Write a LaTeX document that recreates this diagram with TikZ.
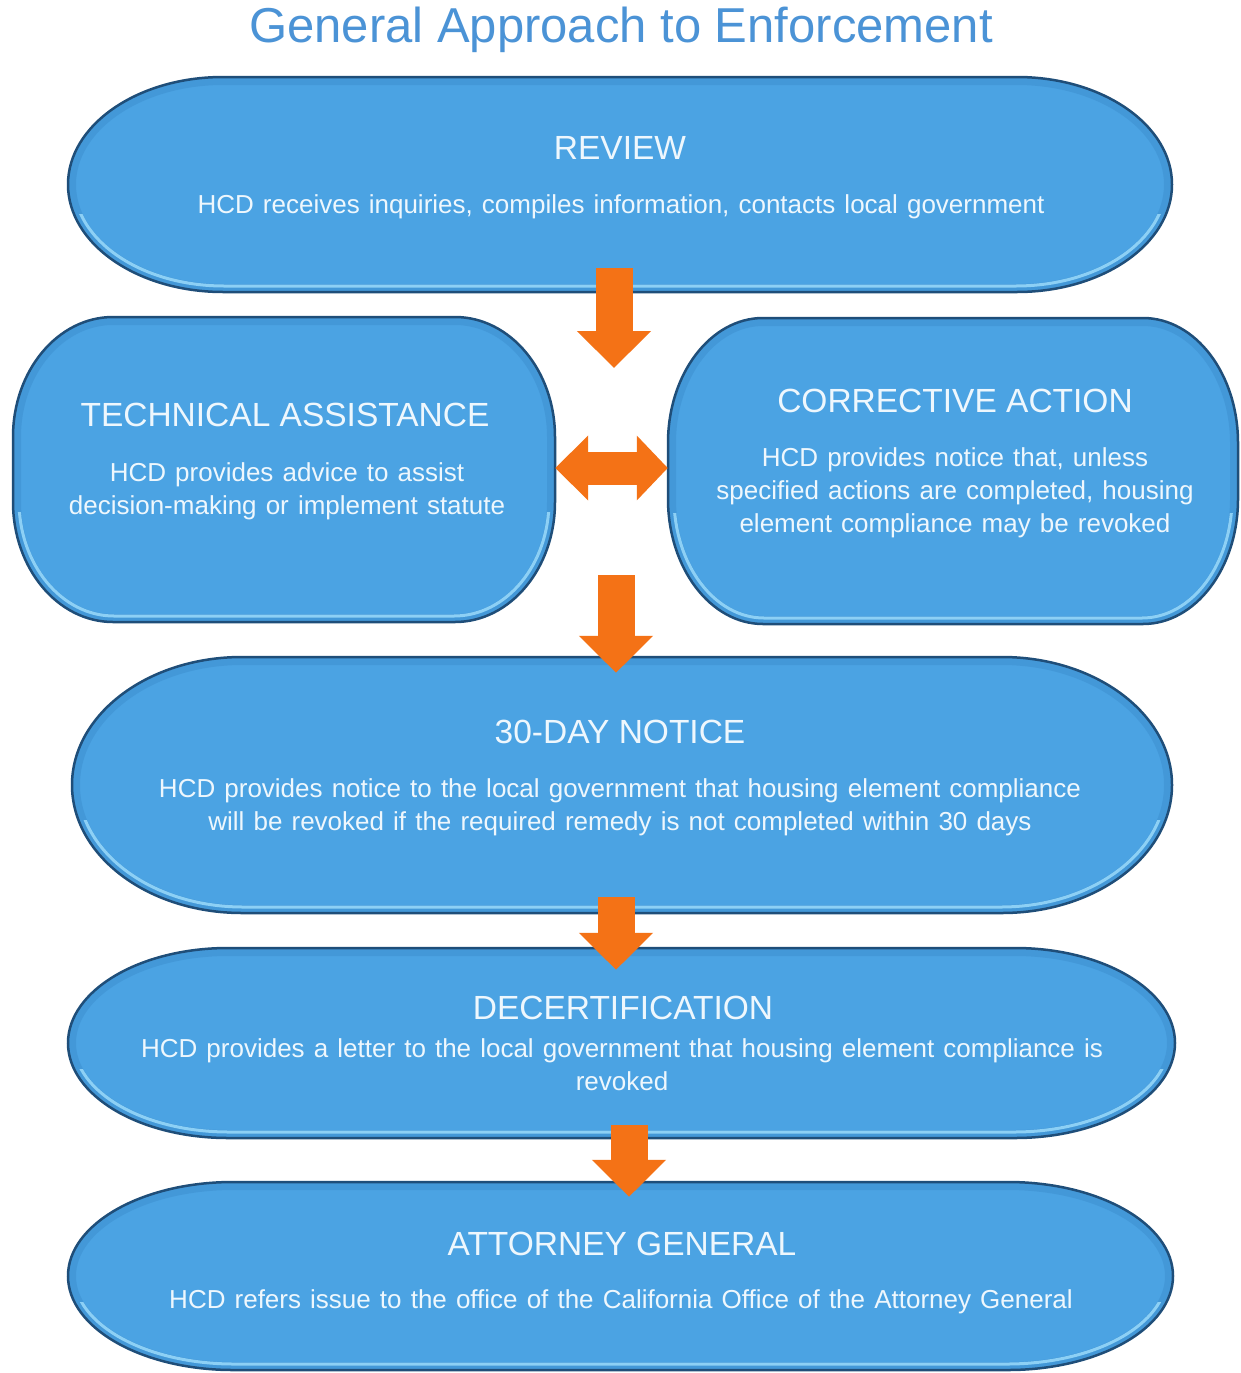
\documentclass[tikz,border=0pt]{standalone}
\usepackage{fontspec}
\setmainfont{Liberation Sans}
\usetikzlibrary{arrows.meta,calc}

\definecolor{pillfill}{HTML}{4BA3E3}
\definecolor{pilledge}{HTML}{1F4E79}
\definecolor{pilllight}{HTML}{A6E4FF}
\definecolor{pilldark}{HTML}{3A8BCB}
\definecolor{pilltext}{HTML}{EEF7FD}
\definecolor{headblue}{HTML}{4B93D6}
\definecolor{arroworange}{HTML}{F47216}

% 1 - 0.5523: Bezier approximation of a quarter ellipse
\def\kk{0.4477}
% rectangle x1 y1 x2 y2 with elliptical corners rx, ry
\newcommand\pillpath[6]{%
  ({#1+#5},#2) -- ({#3-#5},#2)
  .. controls ({#3-\kk*#5},#2) and (#3,{#2+\kk*#6}) .. (#3,{#2+#6})
  -- (#3,{#4-#6})
  .. controls (#3,{#4-\kk*#6}) and ({#3-\kk*#5},#4) .. ({#3-#5},#4)
  -- ({#1+#5},#4)
  .. controls ({#1+\kk*#5},#4) and (#1,{#4-\kk*#6}) .. (#1,{#4-#6})
  -- (#1,{#2+#6})
  .. controls (#1,{#2+\kk*#6}) and ({#1+\kk*#5},#2) .. ({#1+#5},#2) -- cycle}

% a bevelled blue pill
\newcommand\bluepill[6]{%
  \pgfmathsetmacro\ixa{#1+6}\pgfmathsetmacro\iya{#2+6}%
  \pgfmathsetmacro\ixb{#3-6}\pgfmathsetmacro\iyb{#4-6}%
  \pgfmathsetmacro\irx{#5-5}\pgfmathsetmacro\iry{#6-5}%
  \pgfmathsetmacro\ymid{#2+0.64*(#4-#2)}\pgfmathsetmacro\ylow{#4+5}%
  \fill[pillfill] \pillpath{#1}{#2}{#3}{#4}{#5}{#6};
  \begin{scope}
    \clip \pillpath{#1}{#2}{#3}{#4}{#5}{#6};
    \draw[pilldark, line width=16pt, opacity=0.45] \pillpath{#1}{#2}{#3}{#4}{#5}{#6};
  \end{scope}
  \begin{scope}
    \clip (0,\ymid) rectangle (1241,\ylow);
    \draw[pilllight, line width=3pt, opacity=0.75]
      \pillpath{\ixa}{\iya}{\ixb}{\iyb}{\irx}{\iry};
  \end{scope}
  \draw[pilledge, line width=2.5pt] \pillpath{#1}{#2}{#3}{#4}{#5}{#6};
}

% body text with slightly wider word gaps
\newcommand\bodyfont{\fontsize{26}{33}\selectfont\spaceskip=0.35em plus 0.1em\relax}

\tikzset{
  boxnode/.style={draw=none, inner sep=0pt, rectangle},
  stagetitle/.style={text=pilltext, font=\fontsize{33.5}{38}\selectfont, inner sep=0pt},
  stagebody/.style={text=pilltext, font=\bodyfont, align=center, inner sep=0pt},
  blockarrow/.style={arroworange, line width=37pt,
    -{Triangle[length=37pt,width=72pt]}},
  twowayarrow/.style={arroworange, line width=33pt,
    {Triangle[length=33pt,width=63pt]}-{Triangle[length=31pt,width=63pt]}},
}

\begin{document}
\begin{tikzpicture}[x=1pt, y=-1pt]
\useasboundingbox (0,0) rectangle (1241,1373);
\fill[white] (0,0) rectangle (1241,1373);

% heading
\node[text=headblue, font=\fontsize{49}{55}\selectfont, inner sep=0pt] (heading) at (621,30) {General Approach to Enforcement};

% stage shapes
\bluepill{68}{77}{1172}{292}{155}{107.5}
\bluepill{13}{317}{555}{622}{100}{120}
\bluepill{668}{318}{1238}{624}{95}{125}
\bluepill{72}{657}{1172}{913}{170}{128}
\bluepill{68}{948}{1175}{1138}{160}{95}
\bluepill{68}{1182}{1173}{1370}{165}{94}

% stage nodes
\node[boxnode, minimum width=1104pt, minimum height=215pt] (review) at (620,184.5) {};
\node[boxnode, minimum width=542pt, minimum height=305pt] (tech) at (284,469.5) {};
\node[boxnode, minimum width=570pt, minimum height=306pt] (corrective) at (953,471) {};
\node[boxnode, minimum width=1100pt, minimum height=256pt] (notice) at (622,785) {};
\node[boxnode, minimum width=1107pt, minimum height=190pt] (decert) at (621.5,1043) {};
\node[boxnode, minimum width=1105pt, minimum height=188pt] (attorney) at (620.5,1276) {};

% stage texts
\node[stagetitle] (review-t) at (620,148) {REVIEW};
\node[stagebody] (review-b) at (621,207) {HCD receives inquiries, compiles information, contacts local government};

\node[stagetitle] (tech-t) at (285,415) {TECHNICAL ASSISTANCE};
\node[stagebody] (tech-b) at (287,491) {HCD provides advice to assist\\decision-making or implement statute};

\node[stagetitle] (corrective-t) at (955,401) {CORRECTIVE ACTION};
\node[stagebody] (corrective-b) at (955,493) {HCD provides notice that, unless\\specified actions are completed, housing\\element compliance may be revoked};

\node[stagetitle] (notice-t) at (620,732) {30-DAY NOTICE};
\node[stagebody] (notice-b) at (620,807.5) {HCD provides notice to the local government that housing element compliance\\will be revoked if the required remedy is not completed within 30 days};

\node[stagetitle] (decert-t) at (623,1008) {DECERTIFICATION};
\node[stagebody] (decert-b) at (622,1064.5) {HCD provides a letter to the local government that housing element compliance is\\revoked};

\node[stagetitle] (attorney-t) at (622,1244) {ATTORNEY GENERAL};
\node[stagebody] (attorney-b) at (621,1302) {HCD refers issue to the office of the California Office of the Attorney General};

% connectors
\coordinate (split) at (614,368);
\coordinate (merge) at (616,575);
\draw[blockarrow] ($(review.south)+(-6,-24)$) -- (split);
\draw[twowayarrow] (tech.east |- 0,468) -- (corrective.west |- 0,468);
\draw[blockarrow] (merge) -- ($(notice.north)+(-6,16)$);
\draw[blockarrow] ($(notice.south)+(-6,-16)$) -- ($(decert.north)+(-5.5,22)$);
\draw[blockarrow] ($(decert.south)+(7.5,-13)$) -- ($(attorney.north)+(8.5,15)$);
\end{tikzpicture}
\end{document}
